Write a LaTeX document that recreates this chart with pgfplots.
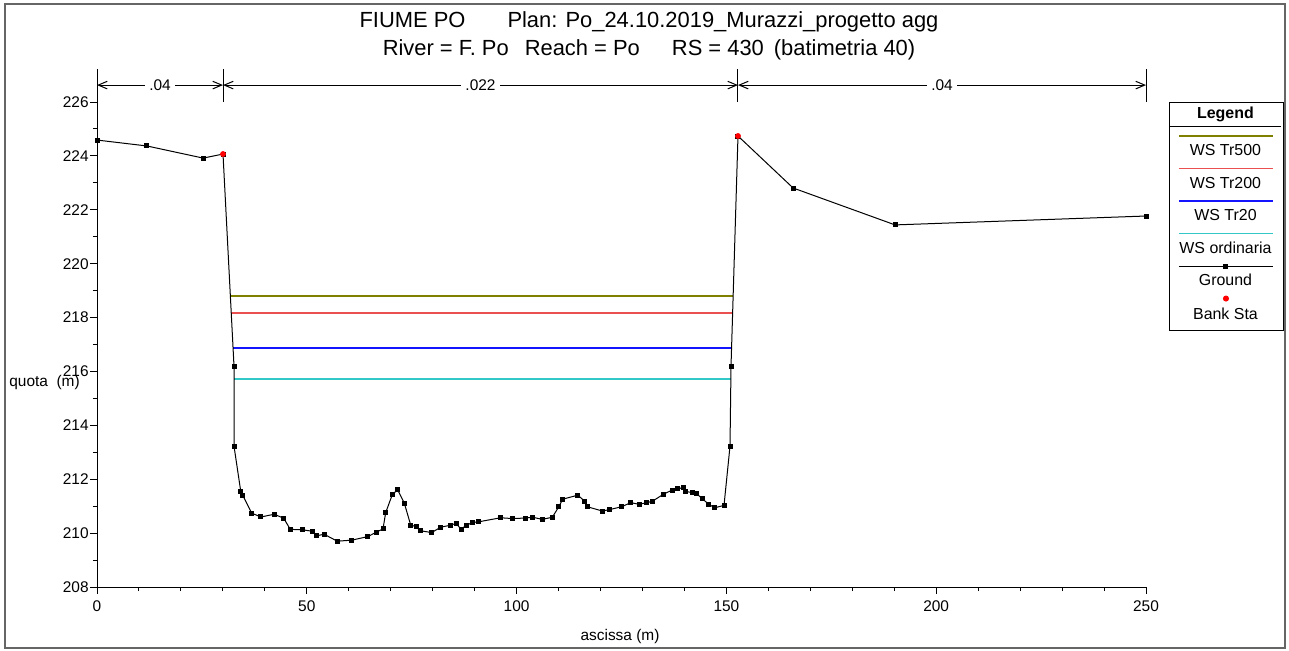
\documentclass[border=0pt]{standalone}
\usepackage{pgfplots}
\pgfplotsset{compat=1.18}
\usetikzlibrary{arrows.meta}
\usepackage{fontspec}
\setmainfont{Liberation Sans}

\definecolor{wsfive}{RGB}{128,128,0}
\definecolor{wstwohund}{RGB}{235,80,80}
\definecolor{wstwenty}{RGB}{20,20,255}
\definecolor{wsord}{RGB}{50,200,200}

\newcommand{\legfont}{\fontsize{8}{9.6}\selectfont}
\newcommand{\tickfont}{\fontsize{7.75}{9.3}\selectfont}

\pgfplotsset{
  wsleg/.style={legend image code/.code={%
      \path[draw=none, fill=none] (-4.5bp,4.5bp) rectangle (51bp,-11.75bp);
      \draw[##1] (0bp,0bp) -- (47bp,0bp);
      \node[font=\legfont, text=black, inner sep=0pt] at (23.25bp,-7bp) {#1};}},
  groundleg/.style={legend image code/.code={%
      \path[draw=none, fill=none] (-4.5bp,4.5bp) rectangle (51bp,-11.75bp);
      \draw[mark repeat=2, mark phase=2, ##1] plot coordinates {(0bp,0bp) (23.5bp,0bp) (47bp,0bp)};
      \node[font=\legfont, text=black, inner sep=0pt] at (23.25bp,-7bp) {#1};}},
  bankleg/.style={legend image code/.code={%
      \path[draw=none, fill=none] (-4.5bp,4.5bp) rectangle (51bp,-16bp);
      \draw[##1] plot coordinates {(23.5bp,0bp)};
      \node[font=\legfont, text=black, inner sep=0pt] at (23.25bp,-7.5bp) {#1};}},
}

% ground profile of the cross section (station, elevation)
\pgfplotstableread{
x      y
0      224.59
11.9   224.37
25.3   223.92
30.03  224.07
32.65  216.20
32.65  213.23
34.25  211.56
34.72  211.41
36.87  210.74
39.08  210.60
42.26  210.70
44.50  210.55
46.07  210.14
49.09  210.12
51.31  210.07
52.43  209.90
54.10  209.96
57.27  209.70
60.77  209.74
64.51  209.87
66.66  210.04
68.16  210.16
68.80  210.76
70.38  211.43
71.66  211.61
73.24  211.11
74.76  210.30
76.03  210.24
76.98  210.09
79.77  210.02
81.91  210.22
84.13  210.29
85.56  210.36
86.75  210.15
88.11  210.29
89.37  210.39
90.97  210.42
96.21  210.57
99.07  210.54
102.17 210.56
103.84 210.59
106.13 210.51
108.51 210.59
110.03 210.97
110.99 211.26
114.63 211.41
116.13 211.19
116.85 210.98
120.42 210.82
122.09 210.87
125.05 210.98
127.19 211.13
129.24 211.07
131.01 211.13
132.34 211.18
135.06 211.45
137.11 211.60
138.23 211.64
139.73 211.69
140.30 211.55
141.87 211.50
142.76 211.48
144.26 211.28
145.69 211.08
147.21 210.94
149.43 211.03
150.86 213.23
151.10 216.20
152.76 224.74
165.9  222.81
190.2  221.44
250    221.77
}\ground

\pgfplotstableread{
x      y
30.03  224.07
152.76 224.74
}\banks

\begin{document}
\begin{tikzpicture}
\useasboundingbox (0,0) rectangle (644.5bp,325.5bp);
\draw[black!60, line width=0.6bp] (2.5bp,1.5bp) rectangle (642.5bp,323.5bp);

\node[font=\fontsize{11}{13}\selectfont] at (324.5bp,314.5bp)
  {FIUME PO\hspace{21bp}Plan: Po\_24.10.2019\_Murazzi\_progetto agg};
\node[font=\fontsize{11}{13}\selectfont] at (324.5bp,300.5bp)
  {River = F. Po\hspace{8bp}Reach = Po\hspace{16bp}RS = 430\hspace{5bp}(batimetria 40)};

\begin{axis}[
  at={(48.5bp,32bp)}, anchor=south west,
  scale only axis, width=524.5bp, height=258.5bp,
  xmin=0, xmax=250, ymin=208, ymax=227.19,
  axis lines=left, axis line style={-, line width=0.5bp},
  xtick={0,50,...,250}, minor x tick num=4,
  ytick={208,210,...,226}, minor y tick num=1,
  tick align=outside, major tick length=3.5bp, minor tick length=2bp,
  every tick/.style={black, line width=0.5bp},
  /pgf/number format/assume math mode=true,
  ticklabel style={font=\tickfont},
  yticklabel style={inner xsep=0.5bp},
  clip=false,
  xlabel={ascissa (m)},
  every axis x label/.style={at={(axis description cs:0.4986,-0.0948)}, anchor=center, font=\tickfont},
  ylabel={quota\ \ (m)},
  every axis y label/.style={at={(axis description cs:-0.0839,0.3946)}, anchor=west, inner sep=0pt, font=\tickfont},
  legend style={at={(axis description cs:1.0219,0.938)}, anchor=north west,
    draw=black, fill=white, line width=0.5bp, inner sep=0pt,
    column sep=0pt, row sep=0pt,
    nodes={inner sep=0pt, text depth=0pt}, cells={anchor=center}},
]
\addlegendimage{legend image code/.code={%
    \path[draw=none, fill=none] (-4.5bp,0bp) rectangle (51bp,-11.5bp);
    \node[font=\bfseries\legfont, text=black, inner sep=0pt] at (23.25bp,-4.5bp) {Legend};
    \draw[black, line width=0.5bp] (-4.5bp,-11.5bp) -- (51bp,-11.5bp);}}
\addlegendentry{\mbox{}}

% water surface elevations
\addplot[wsfive, line width=0.55bp, wsleg={WS Tr500}] coordinates {(31.78,218.80) (151.60,218.80)};
\addlegendentry{\mbox{}}
\addplot[wstwohund, line width=0.55bp, wsleg={WS Tr200}] coordinates {(32.00,218.17) (151.48,218.17)};
\addlegendentry{\mbox{}}
\addplot[wstwenty, line width=0.55bp, wsleg={WS Tr20}] coordinates {(32.43,216.87) (151.23,216.87)};
\addlegendentry{\mbox{}}
\addplot[wsord, line width=0.7bp, wsleg={WS ordinaria}] coordinates {(32.65,215.72) (151.06,215.72)};
\addlegendentry{\mbox{}}

% ground line
\addplot[black, line width=0.5bp, mark=square*, mark size=1bp,
  mark options={solid}, groundleg={Ground}] table[x=x, y=y] {\ground};
\addlegendentry{\mbox{}}

% bank stations
\addplot[only marks, mark=*, mark size=1.25bp, red, draw=red, fill=red,
  bankleg={Bank Sta}] table[x=x, y=y] {\banks};
\addlegendentry{\mbox{}}

% Manning's n regions along the top
\draw[line width=0.5bp] (axis cs:0,226.0) -- (axis cs:0,227.23);
\draw[line width=0.5bp] (axis cs:30.03,226.0) -- (axis cs:30.03,227.23);
\draw[line width=0.5bp] (axis cs:152.76,226.0) -- (axis cs:152.76,227.23);
\draw[line width=0.5bp] (axis cs:250,226.0) -- (axis cs:250,227.23);
\tikzset{nreg/.style={line width=0.5bp, {Straight Barb[length=4.5bp,width=3.8bp]}-{Straight Barb[length=4.5bp,width=3.8bp]}}}
\draw[nreg] (axis cs:0,226.63) -- (axis cs:30.03,226.63)
  node[midway, fill=white, inner xsep=2bp, inner ysep=0pt, font=\tickfont] {.04};
\draw[nreg] (axis cs:30.03,226.63) -- (axis cs:152.76,226.63)
  node[midway, fill=white, inner xsep=2bp, inner ysep=0pt, font=\tickfont] {.022};
\draw[nreg] (axis cs:152.76,226.63) -- (axis cs:250,226.63)
  node[midway, fill=white, inner xsep=2bp, inner ysep=0pt, font=\tickfont] {.04};
\end{axis}
\end{tikzpicture}
\end{document}
